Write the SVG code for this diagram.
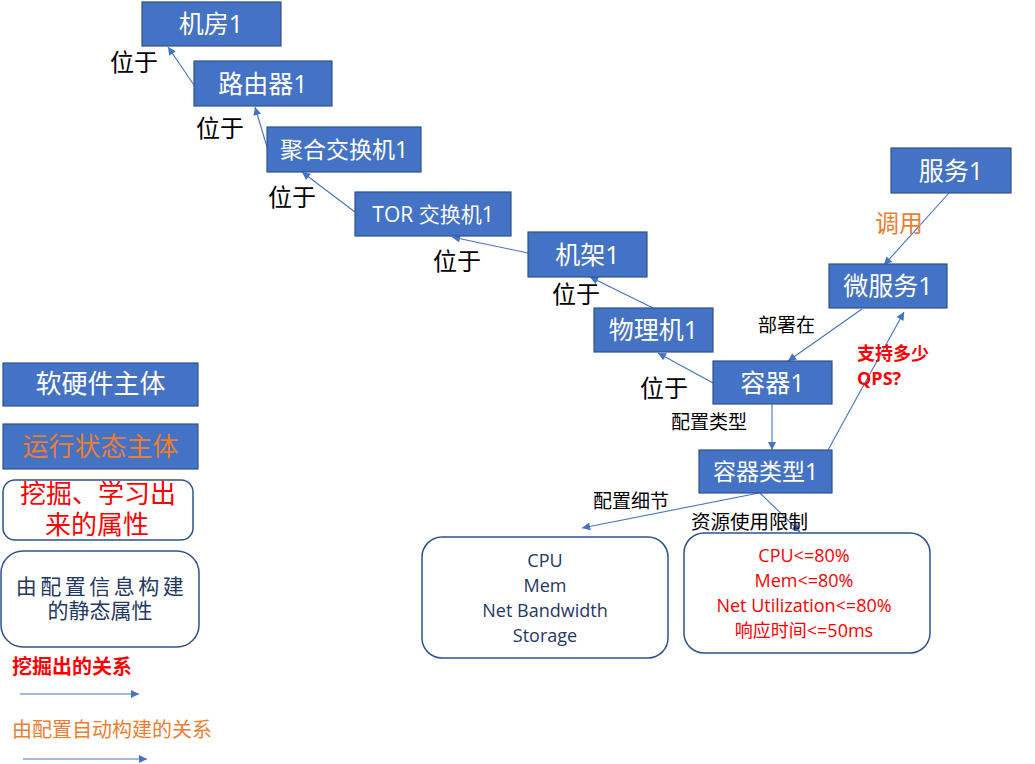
<svg xmlns="http://www.w3.org/2000/svg" width="1035" height="764" viewBox="0 0 1035 764">
<defs>
<marker id="ah" viewBox="0 0 10 10" refX="10" refY="5" markerWidth="9" markerHeight="8" markerUnits="userSpaceOnUse" orient="auto">
<path d="M0,0 L10,5 L0,10 z" fill="#4472C4"/>
</marker>
<style>
.n{fill:#4472C4;stroke:#2F528F;stroke-width:1.2}
.nt{fill:#fff;font-family:"Open Sans","Noto Sans CJK SC",sans-serif;text-anchor:middle}
.c{stroke:#4472C4;stroke-width:1.1;fill:none;marker-end:url(#ah)}
.lb{font-family:"Open Sans","Noto Sans CJK SC",sans-serif;fill:#000}
.rb{fill:#fff;stroke:#2F528F;stroke-width:1.5}
.bt{font-family:"Open Sans","Noto Sans CJK SC",sans-serif;font-size:18px;text-anchor:middle}
</style>
</defs>
<rect width="1035" height="764" fill="#fff"/>
<g id="connectors">
<line class="c" x1="194" y1="85" x2="168" y2="47"/>
<line class="c" x1="267" y1="147" x2="255" y2="107"/>
<line class="c" x1="355" y1="212" x2="302" y2="172"/>
<line class="c" x1="528" y1="253" x2="452" y2="237"/>
<line class="c" x1="653" y1="308" x2="590" y2="277"/>
<line class="c" x1="713" y1="383" x2="658" y2="353"/>
<line class="c" x1="949" y1="193" x2="884" y2="265"/>
<line class="c" x1="862" y1="309" x2="788" y2="361"/>
<line class="c" x1="772" y1="404" x2="772" y2="450"/>
<line class="c" x1="828" y1="450" x2="904" y2="312"/>
<line class="c" x1="759" y1="493" x2="582" y2="528"/>
<line class="c" x1="760" y1="493" x2="800" y2="532"/>
<line class="c" x1="20" y1="694" x2="139" y2="694"/>
<line class="c" x1="23" y1="759" x2="147" y2="759"/>
</g>
<g id="edge-labels">
<text class="lb" x="110" y="71" font-size="24">位于</text>
<text class="lb" x="196" y="137" font-size="24">位于</text>
<text class="lb" x="268" y="206" font-size="24">位于</text>
<text class="lb" x="433" y="270" font-size="24">位于</text>
<text class="lb" x="552" y="303" font-size="24">位于</text>
<text class="lb" x="640" y="397" font-size="24">位于</text>
<text class="lb" x="875" y="232" font-size="24" style="fill:#ED7D31">调用</text>
<text class="lb" x="758" y="332" font-size="19">部署在</text>
<text class="lb" font-size="18" font-weight="bold" style="fill:#FF0000"><tspan x="857" y="360">支持多少</tspan><tspan x="857" y="385">QPS?</tspan></text>
<text class="lb" x="671" y="429" font-size="19">配置类型</text>
<text class="lb" x="593" y="508" font-size="19">配置细节</text>
<text class="lb" x="691" y="529" font-size="19.5">资源使用限制</text>
</g>
<g id="n-jifang"><rect class="n" x="142" y="2" width="139" height="44"/><text class="nt" x="211" y="33" font-size="25">机房1</text></g>
<g id="n-luyouqi"><rect class="n" x="194" y="61" width="138" height="45"/><text class="nt" x="263" y="93" font-size="25">路由器1</text></g>
<g id="n-juhe"><rect class="n" x="267" y="127" width="154" height="45"/><text class="nt" x="344" y="158" font-size="23">聚合交换机1</text></g>
<g id="n-tor"><rect class="n" x="355" y="192" width="156" height="44"/><text class="nt" x="433" y="222" font-size="21">TOR 交换机1</text></g>
<g id="n-jijia"><rect class="n" x="528" y="232" width="119" height="45"/><text class="nt" x="587.5" y="264" font-size="25">机架1</text></g>
<g id="n-wuliji"><rect class="n" x="594" y="308" width="119" height="44"/><text class="nt" x="653.5" y="339" font-size="25">物理机1</text></g>
<g id="n-rongqi"><rect class="n" x="713" y="361" width="119" height="43"/><text class="nt" x="772.5" y="392" font-size="25">容器1</text></g>
<g id="n-fuwu"><rect class="n" x="891" y="148" width="120" height="45"/><text class="nt" x="951" y="180" font-size="25">服务1</text></g>
<g id="n-weifuwu"><rect class="n" x="829" y="264" width="118" height="44"/><text class="nt" x="888" y="295" font-size="25">微服务1</text></g>
<g id="n-rongqileixing"><rect class="n" x="699" y="450" width="133" height="43"/><text class="nt" x="765.5" y="480" font-size="23">容器类型1</text></g>
<g id="n-config"><rect class="rb" x="422" y="537" width="246" height="121" rx="20"/>
<text class="bt" fill="#1F3864"><tspan x="545" y="567">CPU</tspan><tspan x="545" y="592">Mem</tspan><tspan x="545" y="617">Net Bandwidth</tspan><tspan x="545" y="642">Storage</tspan></text>
</g>
<g id="n-limit"><rect class="rb" x="684" y="533" width="246" height="120" rx="20"/>
<text class="bt" fill="#FF0000"><tspan x="804" y="562">CPU&lt;=80%</tspan><tspan x="804" y="587">Mem&lt;=80%</tspan><tspan x="804" y="612">Net Utilization&lt;=80%</tspan><tspan x="804" y="637">响应时间&lt;=50ms</tspan></text>
</g>
<g id="legend-hw"><rect class="n" x="3" y="363" width="195" height="43"/><text class="nt" x="100.5" y="393" font-size="26">软硬件主体</text></g>
<g id="legend-run"><rect class="n" x="3" y="424" width="195" height="45"/><text class="nt" x="100.5" y="456" font-size="26" style="fill:#ED7D31">运行状态主体</text></g>
<g id="legend-mined"><rect class="rb" x="3" y="480" width="190" height="60" rx="12"/>
<text class="nt" font-size="26" style="fill:#FF0000"><tspan x="98" y="503">挖掘、学习出</tspan><tspan x="97" y="534">来的属性</tspan></text>
</g>
<g id="legend-static"><rect class="rb" x="1" y="551" width="198" height="96" rx="22"/>
<text class="nt" style="fill:#1F3864"><tspan x="101.5" y="594" font-size="21" letter-spacing="3.5">由配置信息构建</tspan><tspan x="100" y="618" font-size="21">的静态属性</tspan></text>
</g>
<g id="legend-text">
<text class="lb" x="12" y="674" font-size="20" font-weight="bold" style="fill:#FF0000">挖掘出的关系</text>
<text class="lb" x="12" y="737" font-size="20" style="fill:#ED7D31">由配置自动构建的关系</text>
</g>
</svg>
